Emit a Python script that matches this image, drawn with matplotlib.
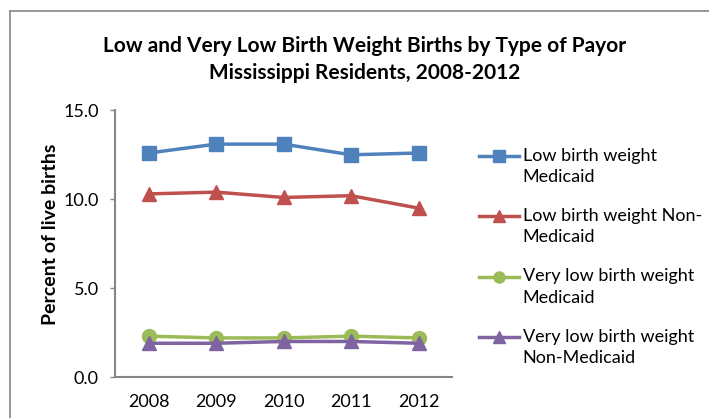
import matplotlib
matplotlib.use("Agg")
from matplotlib import pyplot as plt
from matplotlib.lines import Line2D

plt.rcParams['font.family'] = ['Lato', 'DejaVu Sans']

years = ["2008", "2009", "2010", "2011", "2012"]
lbw_medicaid = [12.6, 13.1, 13.1, 12.5, 12.6]
lbw_non_medicaid = [10.3, 10.4, 10.1, 10.2, 9.5]
vlbw_medicaid = [2.3, 2.2, 2.2, 2.3, 2.2]
vlbw_non_medicaid = [1.9, 1.9, 2.0, 2.0, 1.9]

series = [
    ("Low birth weight\nMedicaid", lbw_medicaid, "#4f81bd", "s"),
    ("Low birth weight Non-\nMedicaid", lbw_non_medicaid, "#c0504d", "^"),
    ("Very low birth weight\nMedicaid", vlbw_medicaid, "#9bbb59", "o"),
    ("Very low birth weight\nNon-Medicaid", vlbw_non_medicaid, "#8064a2", "^"),
]

fig = plt.figure(figsize=(7.09, 4.18), dpi=100)
ax = fig.add_axes([0.162, 0.098, 0.476, 0.638])

x = range(len(years))
for label, vals, color, marker in series:
    # leading blank line keeps the legend handle level with the first text line
    ax.plot(x, vals, color=color, marker=marker, markersize=10, linewidth=2.5,
            label="\n" + label)

ax.set_xlim(-0.5, len(years) - 0.5)
ax.set_ylim(0, 15)
ax.set_yticks([0, 5, 10, 15])
ax.set_yticklabels(["0.0", "5.0", "10.0", "15.0"])
ax.set_xticks(list(x))
ax.set_xticklabels(years)
ax.tick_params(axis='both', labelsize=13, colors="#868686", labelcolor="black")
ax.tick_params(axis='x', length=0, pad=12)
ax.tick_params(axis='y', length=3.6, width=1, pad=8)
for s in ["top", "right"]:
    ax.spines[s].set_visible(False)
for s in ["left", "bottom"]:
    ax.spines[s].set_color("#868686")
    ax.spines[s].set_linewidth(1.5)

ax.set_ylabel("Percent of live births", fontsize=14, fontweight="bold")
ax.yaxis.set_label_coords(-0.165, 0.535)

fig.text(0.514, 0.858, "Low and Very Low Birth Weight Births by Type of Payor\nMississippi Residents, 2008-2012",
         ha="center", va="center", fontsize=15, fontweight="bold", linespacing=1.4)

leg = ax.legend(loc="upper left", bbox_to_anchor=(1.08, 0.938), frameon=False,
                fontsize=13, handlelength=2.2, labelspacing=0.1, handletextpad=0.2,
                borderaxespad=0, borderpad=0)
for h in leg.legend_handles:
    h.set_markersize(8)
for t in leg.get_texts():
    t.set_linespacing(1.4)

# chart frame (left and top edges)
fig.add_artist(Line2D([0.014, 0.014], [0, 0.974], color="#868686", lw=1.2,
                      transform=fig.transFigure))
fig.add_artist(Line2D([0.014, 1.0], [0.974, 0.974], color="#868686", lw=1.2,
                      transform=fig.transFigure))

fig.savefig("out.png", dpi=100)
